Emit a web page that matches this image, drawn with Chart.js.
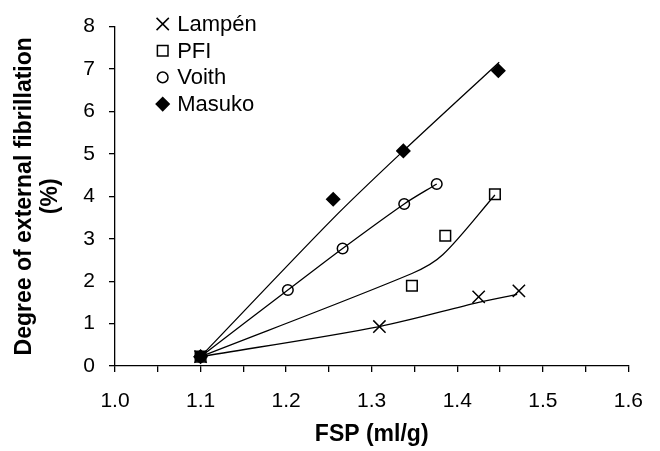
<!DOCTYPE html>
<html>
<head>
<meta charset="utf-8">
<script src="https://cdn.jsdelivr.net/npm/chart.js@4.4.1/dist/chart.umd.min.js"></script>
<style>
    html, body { margin: 0; padding: 0; background: #fff; }
    #wrap { width: 660px; height: 451px; }
</style>
</head>
<body>
<div id="wrap"><canvas id="fibrillation-chart"></canvas></div>
<script>
    "use strict";

    // Measured points
    var lampenFsp = [1.1, 1.309, 1.425, 1.472];
    var lampenFib = [0.22, 0.93, 1.63, 1.77];
    var pfiFsp = [1.1, 1.347, 1.386, 1.444];
    var pfiFib = [0.22, 1.89, 3.07, 4.05];
    var voithFsp = [1.1, 1.202, 1.266, 1.338, 1.376];
    var voithFib = [0.22, 1.79, 2.77, 3.82, 4.29];
    var masukoFsp = [1.1, 1.255, 1.337, 1.448];
    var masukoFib = [0.22, 3.93, 5.07, 6.96];

    // Fitted curves
    var lampenLineFsp = [1.1, 1.309, 1.425, 1.47];
    var lampenLineFib = [0.22, 0.93, 1.50, 1.69];
    var pfiLineFsp = [1.1, 1.347, 1.383, 1.444];
    var pfiLineFib = [0.22, 2.18, 2.62, 4.03];
    var voithLineFsp = [1.1, 1.202, 1.266, 1.338, 1.376];
    var voithLineFib = [0.22, 1.79, 2.77, 3.82, 4.29];
    var masukoLineFsp = [1.1, 1.255, 1.337, 1.449];
    var masukoLineFib = [0.22, 3.48, 5.07, 7.16];

    var seriesNames = ["Lampén", "PFI", "Voith", "Masuko"];
    var xTickLabels = ["1.0", "1.1", "1.2", "1.3", "1.4", "1.5", "1.6"];
    var yTickLabels = ["0", "1", "2", "3", "4", "5", "6", "7", "8"];

    var fontFamily = '"Liberation Sans", Arial, sans-serif';

    function toPoints(xs, ys) {
        return xs.map(function (x, i) { return {x: x, y: ys[i]}; });
    }

    function curve(xs, ys) {
        return {
            data: toPoints(xs, ys),
            showLine: true,
            borderColor: "#000",
            borderWidth: 1.3,
            pointRadius: 0,
            tension: 0.3,
            inLegend: false
        };
    }

    function markers(name, xs, ys, style, radius, fill) {
        return {
            label: name,
            data: toPoints(xs, ys),
            showLine: false,
            pointStyle: style,
            pointRadius: radius,
            pointBorderWidth: 1.5,
            pointBorderColor: "#000",
            pointBackgroundColor: fill,
            borderColor: "#000",
            backgroundColor: fill,
            inLegend: true
        };
    }

    // Legend drawn inside the plot, top left
    var innerLegend = {
        id: "innerLegend",
        afterDraw: function (chart) {
            var ctx = chart.ctx;
            var x = 162.7, y = 24, gap = 26.7;
            ctx.save();
            ctx.font = "22px " + fontFamily;
            ctx.textBaseline = "middle";
            ctx.textAlign = "left";
            chart.data.datasets.forEach(function (ds) {
                if (!ds.inLegend) return;
                ctx.fillStyle = ds.pointBackgroundColor;
                ctx.strokeStyle = "#000";
                ctx.lineWidth = 1.5;
                Chart.helpers.drawPoint(ctx, {
                    pointStyle: ds.pointStyle,
                    radius: ds.pointRadius,
                    borderWidth: 1.5,
                    rotation: 0
                }, x, y);
                ctx.fillStyle = "#000";
                ctx.fillText(ds.label, x + 14.5, y + 1);
                y += gap;
            });
            ctx.restore();
        }
    };

    var ctx1 = document.getElementById("fibrillation-chart").getContext("2d");
    var myChart1 = new Chart(ctx1, {
        type: "scatter",
        data: {
            datasets: [
                curve(lampenLineFsp, lampenLineFib),
                curve(pfiLineFsp, pfiLineFib),
                curve(voithLineFsp, voithLineFib),
                curve(masukoLineFsp, masukoLineFib),
                markers(seriesNames[0], lampenFsp, lampenFib, "crossRot", 8.7, "rgba(0,0,0,0)"),
                markers(seriesNames[1], pfiFsp, pfiFib, "rect", 7.5, "rgba(0,0,0,0)"),
                markers(seriesNames[2], voithFsp, voithFib, "circle", 5.3, "rgba(0,0,0,0)"),
                markers(seriesNames[3], masukoFsp, masukoFib, "rectRot", 6.5, "#000")
            ]
        },
        options: {
            responsive: true,
            maintainAspectRatio: false,
            animation: false,
            layout: {padding: {top: 15, right: 17, bottom: 0, left: 0}},
            plugins: {
                legend: {display: false},
                tooltip: {enabled: false}
            },
            scales: {
                x: {
                    type: "linear",
                    min: 1.0,
                    max: 1.6,
                    afterFit: function (scale) { scale.height = 85; },
                    border: {display: true, color: "#000", width: 1.3},
                    grid: {display: true, drawOnChartArea: false, drawTicks: true, tickLength: 6, color: "#000", lineWidth: 1.3},
                    ticks: {
                        stepSize: 0.05,
                        autoSkip: false,
                        maxRotation: 0,
                        padding: 17,
                        color: "#000",
                        font: {family: fontFamily, size: 21},
                        callback: function (value) {
                            var k = Math.round(value * 100);
                            return k % 10 === 0 ? xTickLabels[(k - 100) / 10] : "";
                        }
                    },
                    title: {
                        display: true,
                        text: "FSP (ml/g)",
                        color: "#000",
                        padding: {top: 0, bottom: 5},
                        font: {family: fontFamily, size: 23, weight: "bold", lineHeight: 1}
                    }
                },
                y: {
                    min: 0,
                    max: 8,
                    afterFit: function (scale) { scale.width = 115; },
                    border: {display: true, color: "#000", width: 1.3},
                    grid: {display: true, drawOnChartArea: false, drawTicks: true, tickLength: 6, color: "#000", lineWidth: 1.3},
                    ticks: {
                        stepSize: 1,
                        padding: 14,
                        color: "#000",
                        font: {family: fontFamily, size: 21},
                        callback: function (value) { return yTickLabels[value]; }
                    },
                    title: {
                        display: true,
                        text: ["Degree of external fibrillation", "(%)"],
                        color: "#000",
                        padding: {top: 11, bottom: 0},
                        font: {family: fontFamily, size: 23, weight: "bold", lineHeight: 1.15}
                    }
                }
            }
        },
        plugins: [innerLegend]
    });
</script>
</body>
</html>
